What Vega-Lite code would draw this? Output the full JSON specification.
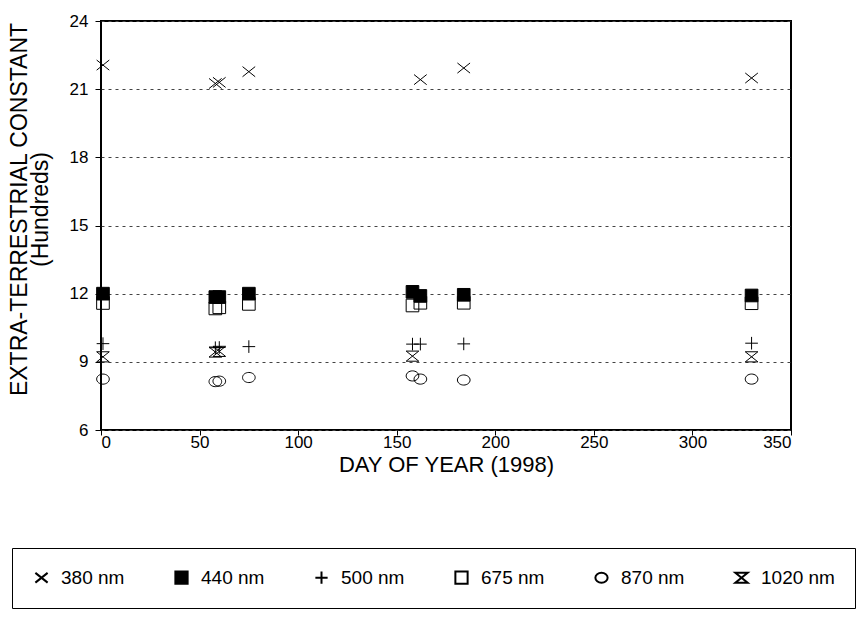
{
  "$schema": "https://vega.github.io/schema/vega-lite/v6.json",
  "width": 690,
  "height": 409,
  "autosize": {"type": "none"},
  "padding": {"left": 101, "top": 21, "right": 69, "bottom": 189},
  "background": "white",
  "config": {
    "font": "Liberation Sans",
    "view": {"stroke": "black", "strokeWidth": 2},
    "axis": {
      "labelFont": "Liberation Sans",
      "titleFont": "Liberation Sans",
      "labelColor": "black",
      "titleColor": "black",
      "titleFontWeight": "normal",
      "domainColor": "black",
      "tickColor": "black",
      "labelFontSize": 17,
      "titleFontSize": 22
    },
    "legend": {
      "title": null,
      "orient": "none",
      "legendX": -89,
      "legendY": 527,
      "direction": "horizontal",
      "columns": 6,
      "gridAlign": "all",
      "padding": 20,
      "strokeColor": "black",
      "symbolStrokeColor": "black",
      "symbolStrokeWidth": 2,
      "symbolSize": 150,
      "labelFont": "Liberation Sans",
      "labelFontSize": 19,
      "labelColor": "black",
      "labelOffset": 10,
      "columnPadding": 36
    }
  },
  "data": {
    "values": [
      {"day": 1, "value": 22.06, "wl": "380 nm"},
      {"day": 58, "value": 21.25, "wl": "380 nm"},
      {"day": 60, "value": 21.3, "wl": "380 nm"},
      {"day": 75, "value": 21.77, "wl": "380 nm"},
      {"day": 162, "value": 21.42, "wl": "380 nm"},
      {"day": 184, "value": 21.93, "wl": "380 nm"},
      {"day": 330, "value": 21.49, "wl": "380 nm"},
      {"day": 1, "value": 11.59, "wl": "675 nm"},
      {"day": 58, "value": 11.35, "wl": "675 nm"},
      {"day": 60, "value": 11.4, "wl": "675 nm"},
      {"day": 75, "value": 11.55, "wl": "675 nm"},
      {"day": 158, "value": 11.48, "wl": "675 nm"},
      {"day": 162, "value": 11.6, "wl": "675 nm"},
      {"day": 184, "value": 11.6, "wl": "675 nm"},
      {"day": 330, "value": 11.58, "wl": "675 nm"},
      {"day": 1, "value": 12.0, "wl": "440 nm"},
      {"day": 58, "value": 11.85, "wl": "440 nm"},
      {"day": 60, "value": 11.85, "wl": "440 nm"},
      {"day": 75, "value": 12.0, "wl": "440 nm"},
      {"day": 158, "value": 12.08, "wl": "440 nm"},
      {"day": 162, "value": 11.9, "wl": "440 nm"},
      {"day": 184, "value": 11.95, "wl": "440 nm"},
      {"day": 330, "value": 11.92, "wl": "440 nm"},
      {"day": 1, "value": 9.8, "wl": "500 nm"},
      {"day": 58, "value": 9.62, "wl": "500 nm"},
      {"day": 60, "value": 9.63, "wl": "500 nm"},
      {"day": 75, "value": 9.67, "wl": "500 nm"},
      {"day": 158, "value": 9.78, "wl": "500 nm"},
      {"day": 162, "value": 9.78, "wl": "500 nm"},
      {"day": 184, "value": 9.79, "wl": "500 nm"},
      {"day": 330, "value": 9.82, "wl": "500 nm"},
      {"day": 1, "value": 8.24, "wl": "870 nm"},
      {"day": 58, "value": 8.13, "wl": "870 nm"},
      {"day": 60, "value": 8.15, "wl": "870 nm"},
      {"day": 75, "value": 8.31, "wl": "870 nm"},
      {"day": 158, "value": 8.38, "wl": "870 nm"},
      {"day": 162, "value": 8.24, "wl": "870 nm"},
      {"day": 184, "value": 8.2, "wl": "870 nm"},
      {"day": 330, "value": 8.24, "wl": "870 nm"},
      {"day": 1, "value": 9.22, "wl": "1020 nm"},
      {"day": 58, "value": 9.43, "wl": "1020 nm"},
      {"day": 60, "value": 9.46, "wl": "1020 nm"},
      {"day": 158, "value": 9.25, "wl": "1020 nm"},
      {"day": 330, "value": 9.22, "wl": "1020 nm"}
    ]
  },
  "mark": {"type": "point", "filled": false, "strokeWidth": 1, "opacity": 1},
  "encoding": {
    "x": {
      "field": "day",
      "type": "quantitative",
      "scale": {"domain": [0, 350], "nice": false, "zero": false},
      "axis": {
        "title": "DAY OF YEAR (1998)",
        "values": [0, 50, 100, 150, 200, 250, 300, 350],
        "grid": false,
        "tickSize": 5,
        "labelPadding": -1,
        "titlePadding": 4,
        "domain": false
      }
    },
    "y": {
      "field": "value",
      "type": "quantitative",
      "scale": {"domain": [6, 24], "nice": false, "zero": false},
      "axis": {
        "title": ["EXTRA-TERRESTRIAL CONSTANT", "(Hundreds)"],
        "titleFontSize": 23,
        "titleLineHeight": 21,
        "titleY": 188,
        "values": [6, 9, 12, 15, 18, 21, 24],
        "grid": true,
        "gridColor": "#444",
        "gridDash": [3, 4],
        "gridWidth": 1,
        "tickSize": 6,
        "labelPadding": 7,
        "titlePadding": 17,
        "domain": false
      }
    },
    "shape": {
      "field": "wl",
      "type": "nominal",
      "scale": {
        "domain": ["380 nm", "440 nm", "500 nm", "675 nm", "870 nm", "1020 nm"],
        "range": [
          "M-1,-0.8L1,0.8M-1,0.8L1,-0.8",
          "square",
          "M-1,0L1,0M0,-1L0,1",
          "square",
          "M-1,0A1,0.8,0,1,1,1,0A1,0.8,0,1,1,-1,0Z",
          "M-1,-0.8L1,-0.8L-1,0.8L1,0.8Z"
        ]
      }
    },
    "fill": {
      "field": "wl",
      "type": "nominal",
      "scale": {
        "domain": ["380 nm", "440 nm", "500 nm", "675 nm", "870 nm", "1020 nm"],
        "range": ["transparent", "black", "transparent", "transparent", "transparent", "transparent"]
      }
    },
    "stroke": {
      "field": "wl",
      "type": "nominal",
      "scale": {
        "domain": ["380 nm", "440 nm", "500 nm", "675 nm", "870 nm", "1020 nm"],
        "range": ["black", "black", "black", "black", "black", "black"]
      }
    },
    "size": {"value": 160}
  }
}
